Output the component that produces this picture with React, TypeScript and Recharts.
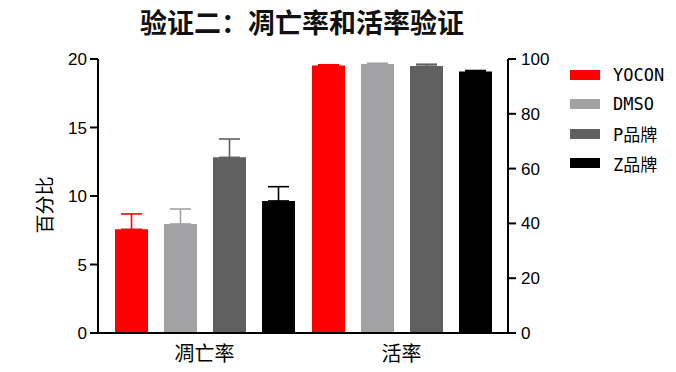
import React from 'react';
import { BarChart, Bar, XAxis, YAxis, ErrorBar, Legend } from 'recharts';

const categories = ['凋亡率', '活率'];
const seriesNames = ['YOCON', 'DMSO', 'P品牌', 'Z品牌'];
const seriesColors = ['#ff0000', '#a2a2a5', '#606060', '#000000'];
// 凋亡率 on the left axis, 活率 on the right axis
const apoptosisValues = [7.57, 7.96, 12.82, 9.64];
const apoptosisErrors = [1.12, 1.09, 1.34, 1.04];
const viabilityValues = [97.6, 98.2, 97.4, 95.4];
const viabilityErrors = [0.3, 0.25, 0.7, 0.4];
const leftTicks = [0, 5, 10, 15, 20];
const rightTicks = [0, 20, 40, 60, 80, 100];

const rows = categories.map((name, c) => {
  const row: Record<string, any> = { name };
  seriesNames.forEach((_, i) => {
    row[`a${i}`] = c === 0 ? apoptosisValues[i] : null;
    row[`ae${i}`] = c === 0 ? [0, apoptosisErrors[i]] : null;
    row[`v${i}`] = c === 1 ? viabilityValues[i] : null;
    row[`ve${i}`] = c === 1 ? [0, viabilityErrors[i]] : null;
  });
  return row;
});

const numFont = '"Liberation Sans", Arial, sans-serif';
const cjkFont = '"Noto Sans CJK SC", sans-serif';
const axisLine = { stroke: '#000', strokeWidth: 2 };

const renderLegend = () => (
  <div style={{ fontFamily: '"DejaVu Sans Mono", "Noto Sans CJK SC", monospace', fontSize: 17, color: '#000' }}>
    {seriesNames.map((n, i) => (
      <div key={n} style={{ display: 'flex', alignItems: 'center', height: 29.5 }}>
        <span style={{ width: 30, height: 10, background: seriesColors[i], marginRight: 13 }} />
        <span>{n}</span>
      </div>
    ))}
  </div>
);

const YLabel = ({ viewBox }: any) => {
  const x = viewBox.x + 5;
  const y = viewBox.y + viewBox.height / 2 + 9;
  return (
    <text
      x={x}
      y={y}
      transform={`rotate(-90 ${x} ${y})`}
      textAnchor="middle"
      dominantBaseline="central"
      fontFamily={cjkFont}
      fontSize={19}
      fill="#000"
    >
      百分比
    </text>
  );
};

export default function App() {
  return (
    <div style={{ position: 'absolute', left: 0, top: 0, width: 676, height: 372, background: '#fff' }}>
      <div
        style={{
          position: 'absolute',
          left: 0,
          top: 4,
          width: 604,
          textAlign: 'center',
          fontFamily: cjkFont,
          fontWeight: 'bold',
          fontSize: 27,
          lineHeight: '36px',
          color: '#111',
        }}
      >
        验证二：凋亡率和活率验证
      </div>
      <BarChart
        width={676}
        height={372}
        data={rows}
        margin={{ top: 59, right: 118, bottom: 9, left: 38 }}
        barSize={33}
        barGap={16}
      >
        <XAxis
          xAxisId="bottom"
          dataKey="name"
          height={30}
          padding={{ left: 8, right: 8 }}
          axisLine={axisLine}
          tickLine={false}
          tickSize={6}
          tickMargin={8}
          tick={{ fontFamily: cjkFont, fontSize: 20, fill: '#000' }}
        />
        <XAxis
          xAxisId="top"
          orientation="top"
          dataKey="name"
          height={0}
          padding={{ left: 8, right: 8 }}
          axisLine={axisLine}
          tickLine={false}
          tick={false}
        />
        <YAxis
          yAxisId="left"
          width={60}
          domain={[0, 20]}
          ticks={leftTicks}
          interval={0}
          axisLine={axisLine}
          tickLine={axisLine}
          tickSize={8}
          tickMargin={3}
          tick={{ fontFamily: numFont, fontSize: 17, fill: '#000' }}
          label={<YLabel />}
        />
        <YAxis
          yAxisId="right"
          orientation="right"
          width={50}
          domain={[0, 100]}
          ticks={rightTicks}
          interval={0}
          axisLine={axisLine}
          tickLine={axisLine}
          tickSize={8}
          tickMargin={5}
          tick={{ fontFamily: numFont, fontSize: 17, fill: '#000' }}
        />
        {seriesNames.map((n, i) => (
          <Bar
            key={`a${i}`}
            name={n}
            xAxisId="bottom"
            yAxisId="left"
            dataKey={`a${i}`}
            fill={seriesColors[i]}
            isAnimationActive={false}
          >
            <ErrorBar dataKey={`ae${i}`} width={10.5} stroke={seriesColors[i]} strokeWidth={1.6} direction="y" />
          </Bar>
        ))}
        {seriesNames.map((n, i) => (
          <Bar
            key={`v${i}`}
            name={n}
            xAxisId="top"
            yAxisId="right"
            dataKey={`v${i}`}
            fill={seriesColors[i]}
            isAnimationActive={false}
          >
            <ErrorBar dataKey={`ve${i}`} width={10.5} stroke={seriesColors[i]} strokeWidth={1.6} direction="y" />
          </Bar>
        ))}
        <Legend
          layout="vertical"
          align="center"
          verticalAlign="middle"
          content={renderLegend}
          wrapperStyle={{ left: 570, top: 60, width: 106 }}
        />
      </BarChart>
    </div>
  );
}
